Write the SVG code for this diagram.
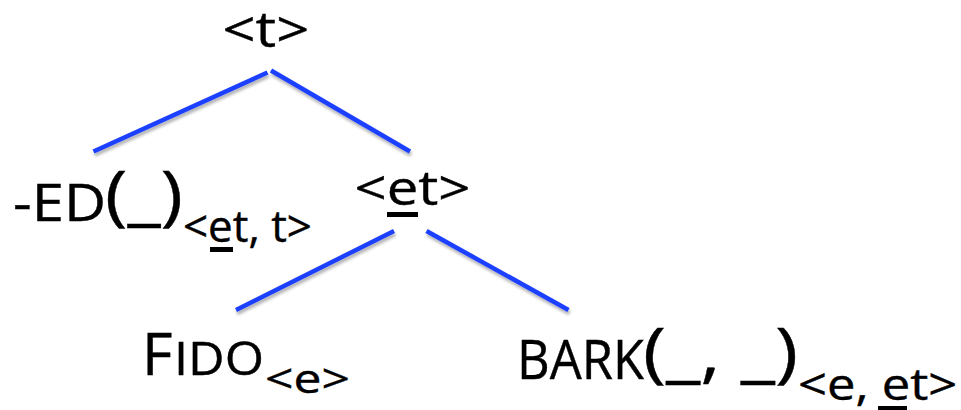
<svg xmlns="http://www.w3.org/2000/svg" width="961" height="410" viewBox="0 0 961 410">
  <style>
    .lbl { font-family: "Open Sans", "Liberation Sans", sans-serif; fill: #000; stroke: #000; stroke-width: 0.4; }
    .edge { stroke: #1f3fff; stroke-width: 4.5; fill: none; filter: url(#shadow); }
    .ul { fill: #000; }
  </style>
  <defs>
    <filter id="shadow" x="-10%" y="-20%" width="120%" height="150%">
      <feDropShadow dx="1" dy="3" stdDeviation="1.5" flood-color="#000" flood-opacity="0.3"/>
    </filter>
  </defs>
  <rect width="961" height="410" fill="#fff"/>

  <!-- tree branches -->
  <g id="edges">
    <line class="edge" x1="267.5" y1="72.5" x2="93.5" y2="151.5"/>
    <line class="edge" x1="271" y1="70.5" x2="410" y2="151.5"/>
    <line class="edge" x1="394" y1="231" x2="236" y2="310"/>
    <line class="edge" x1="426.5" y1="231" x2="568.5" y2="310"/>
  </g>

  <!-- root: <t> -->
  <g id="node-t">
    <text class="lbl" transform="translate(222.5,47) scale(1.18,1)" x="0" y="0" font-size="49">&lt;t&gt;</text>
  </g>

  <!-- -ED(_) with type <et, t> -->
  <g id="node-ed">
    <text class="lbl" x="13" y="221" font-size="51" textLength="93" lengthAdjust="spacingAndGlyphs">-ED</text>
    <text class="lbl" x="105" y="218" font-size="66" textLength="78" lengthAdjust="spacingAndGlyphs">(_)</text>
    <text class="lbl" x="183" y="242" font-size="43" textLength="129" lengthAdjust="spacingAndGlyphs">&lt;et, t&gt;</text>
    <rect class="ul" x="210" y="247" width="23" height="5"/>
  </g>

  <!-- <et> -->
  <g id="node-et">
    <text class="lbl" x="354.5" y="205" font-size="48" textLength="116" lengthAdjust="spacingAndGlyphs">&lt;et&gt;</text>
    <rect class="ul" x="387" y="212" width="31" height="5"/>
  </g>

  <!-- FIDO with type <e> -->
  <g id="node-fido">
    <text class="lbl" x="142" y="375" font-size="59">F</text>
    <text class="lbl" x="174" y="375" font-size="46" textLength="90" lengthAdjust="spacingAndGlyphs">IDO</text>
    <text class="lbl" x="265" y="393" font-size="41" textLength="85" lengthAdjust="spacingAndGlyphs">&lt;e&gt;</text>
  </g>

  <!-- BARK(_, _) with type <e, et> -->
  <g id="node-bark">
    <text class="lbl" x="517" y="379" font-size="54" textLength="127" lengthAdjust="spacingAndGlyphs">BARK</text>
    <text class="lbl" x="643" y="375" font-size="66" textLength="155" lengthAdjust="spacingAndGlyphs">(_, _)</text>
    <text class="lbl" transform="translate(798,400) scale(1.18,1)" x="0" y="0" font-size="43">&lt;e, et&gt;</text>
    <rect class="ul" x="878" y="406" width="29" height="4"/>
  </g>
</svg>
